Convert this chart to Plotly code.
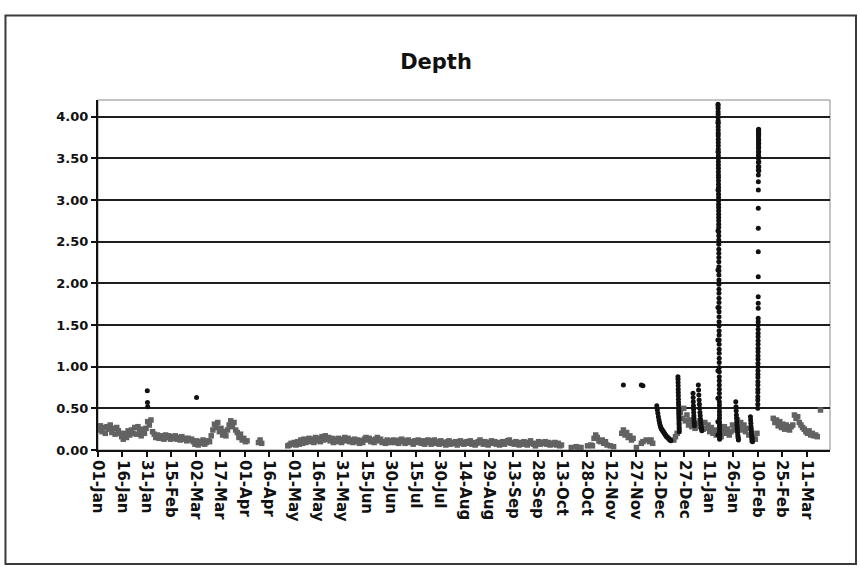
import pandas as pd
import plotly.graph_objects as go

# ---------------------------------------------------------------------------
# Daily depth readings (one value per day from the 1st of each month).
# None marks a day without a reading.
# ---------------------------------------------------------------------------
jan_2003 = [0.24, 0.29, 0.22, 0.27, 0.20, 0.28, 0.25, 0.30, 0.21, 0.26, 0.19, 0.27, 0.23, 0.20,
            0.16, 0.13, 0.20, 0.15, 0.23, 0.18, 0.24,
            0.20, 0.27, 0.19, 0.28, 0.22, 0.17, 0.25, 0.20,
            0.26, 0.34]
feb_2003 = [0.30, 0.36, 0.22,
            0.19, 0.15, 0.18, 0.14, 0.17, 0.16, 0.13, 0.18, 0.15, 0.17, 0.13, 0.16,
            0.14, 0.17, 0.13, 0.15, 0.12, 0.16, 0.13, 0.14, 0.11, 0.14, 0.12, 0.13,
            0.10]
mar_2003 = [0.07, 0.11, 0.06, 0.10, 0.08, 0.12, 0.07, 0.09, 0.11, 0.10,
            0.17, 0.24, 0.31, 0.27, 0.33, 0.22, 0.26,
            0.18, 0.22, 0.17, 0.24,
            0.30, 0.35, 0.28, 0.33, 0.24,
            0.21, 0.15, 0.19, 0.12, 0.14]
apr_2003 = [0.10, 0.11, None, None, None, None, None, None, 0.09, 0.12, 0.08,
            None, None, None, None, None, None, None, None, None, None, None, None, None, None, None,
            0.05, 0.06, 0.08, 0.07]
may_2003 = [0.09, 0.06, 0.10, 0.07, 0.12, 0.08, 0.13, 0.09, 0.11, 0.14, 0.10, 0.13, 0.09, 0.15,
            0.11, 0.14, 0.10, 0.16, 0.12, 0.17, 0.13, 0.15, 0.11, 0.14, 0.09, 0.13, 0.10, 0.14,
            0.11, 0.09, 0.13]
jun_2003 = [0.15, 0.11, 0.14, 0.10, 0.12, 0.09, 0.13, 0.10, 0.12, 0.08, 0.11, 0.09, 0.13, 0.15,
            0.12, 0.14, 0.10, 0.12, 0.09, 0.13, 0.15, 0.11, 0.13, 0.09, 0.10, 0.08, 0.12, 0.10,
            0.09, 0.11]
jul_2003 = [0.12, 0.09, 0.11, 0.08, 0.12, 0.13, 0.10, 0.08, 0.11, 0.12, 0.09, 0.10, 0.07, 0.11,
            0.09, 0.12, 0.10, 0.08, 0.11, 0.07, 0.10, 0.12, 0.09, 0.07, 0.11, 0.12, 0.08, 0.10,
            0.07, 0.11, 0.09]
aug_2003 = [0.08, 0.06, 0.10, 0.11, 0.07, 0.09, 0.08, 0.10, 0.06, 0.08, 0.11, 0.09, 0.07, 0.09,
            0.10, 0.08, 0.11, 0.07, 0.09, 0.06, 0.08, 0.10, 0.12, 0.09, 0.07, 0.10, 0.08, 0.06,
            0.09, 0.11, 0.08]
sep_2003 = [0.10, 0.07, 0.09, 0.06, 0.08, 0.10, 0.07, 0.09, 0.11, 0.12, 0.08, 0.09, 0.07, 0.10,
            0.08, 0.06, 0.09, 0.07, 0.10, 0.08, 0.06, 0.09, 0.11, 0.08, 0.07, 0.05, 0.08, 0.10,
            0.07, 0.09]
oct_2003 = [0.08, 0.10, 0.07, 0.09, 0.06, 0.08, 0.07, 0.09, 0.06, 0.08, 0.05, 0.06,
            None, None, None, None, None, 0.03, None, None, 0.04, 0.03, None, 0.03,
            None, None, None, 0.05, None, 0.06, 0.05]
nov_2003 = [0.14, 0.18, 0.15, 0.11, 0.10, 0.12, 0.08, 0.10, 0.06, None, 0.05, None, 0.04,
            None, None, None, None,
            0.20, 0.24, 0.18, 0.21, 0.15, 0.17, 0.12, 0.14,
            None, 0.03, None, None, 0.08]
dec_2003 = [0.10, None, 0.12, None, 0.10, 0.12, 0.08, None, None,
            None, None, None, None, None, None, None, None, None, None,
            0.12, 0.16, 0.20, None,
            0.45, 0.38, 0.50, 0.35, 0.42, 0.30, 0.36, 0.28]
jan_2004 = [0.30, 0.26, 0.32, 0.28, 0.35, 0.30, 0.25, 0.33, 0.26, 0.30, 0.22, 0.27, 0.20, 0.24,
            0.18, 0.20, None, 0.16, 0.22, 0.28, 0.20, 0.25, 0.18, 0.22, 0.30, 0.24, None,
            0.36, 0.28, 0.33, 0.24]
feb_2004 = [0.30, 0.22, 0.26, 0.18, None, 0.12, 0.15, 0.13, 0.20, None,
            None, None, None, None, None, None, None, None,
            0.38, 0.33, 0.36, 0.29, 0.34, 0.27, 0.31, 0.25, 0.30, 0.26, 0.24]
mar_2004 = [0.28, 0.30, 0.42, 0.38, 0.40, 0.33, 0.30, 0.27, 0.25, 0.22, 0.20, 0.23, 0.18,
            0.20, 0.17, 0.18, 0.16, None, 0.48]

daily_months = [
    ("2003-01-01", jan_2003), ("2003-02-01", feb_2003), ("2003-03-01", mar_2003),
    ("2003-04-01", apr_2003), ("2003-05-01", may_2003), ("2003-06-01", jun_2003),
    ("2003-07-01", jul_2003), ("2003-08-01", aug_2003), ("2003-09-01", sep_2003),
    ("2003-10-01", oct_2003), ("2003-11-01", nov_2003), ("2003-12-01", dec_2003),
    ("2004-01-01", jan_2004), ("2004-02-01", feb_2004), ("2004-03-01", mar_2004),
]

# ---------------------------------------------------------------------------
# Storm-event logging: (first reading, interval in hours, depths)
# ---------------------------------------------------------------------------
storm_2003_01_31 = ("2003-01-31 06:00", 3, [0.71, 0.57, 0.52])
storm_2003_03_02 = ("2003-03-02 12:00", 3, [0.63])
storm_2003_11_19 = ("2003-11-19 12:00", 3, [0.78])
storm_2003_11_30 = ("2003-11-30 12:00", 24, [0.78, 0.77])
storm_2003_12_10 = ("2003-12-10 00:00", 8,
                    [0.53, 0.48, 0.44, 0.40, 0.36, 0.33, 0.30, 0.28, 0.26, 0.25, 0.24, 0.23, 0.22,
                     0.21, 0.20, 0.19, 0.18, 0.17, 0.16, 0.16, 0.15, 0.14, 0.14, 0.13, 0.12, 0.12,
                     0.11])
storm_2003_12_23 = ("2003-12-23 00:00", 1,
                    [0.88, 0.85, 0.81, 0.77, 0.73, 0.69, 0.65, 0.61, 0.57, 0.54, 0.50, 0.47, 0.44,
                     0.41, 0.38, 0.35, 0.32, 0.30, 0.27, 0.25, 0.22])
storm_2004_01_01 = ("2004-01-01 06:00", 2,
                    [0.68, 0.63, 0.58, 0.53, 0.49, 0.45, 0.41, 0.38, 0.35, 0.32, 0.29])
storm_2004_01_04 = ("2004-01-04 12:00", 4,
                    [0.78, 0.72, 0.66, 0.60, 0.55, 0.50, 0.45, 0.41, 0.37, 0.33, 0.30, 0.27, 0.25,
                     0.23])
storm_2004_01_16 = ("2004-01-16 12:00", 0.25,
                    [0.18, 0.34, 0.62, 0.95, 1.32, 1.71, 2.16, 2.63, 3.12, 3.58, 3.93, 4.15,
                     4.13, 4.10, 4.06, 4.03, 3.99, 3.95, 3.92, 3.88, 3.84, 3.80, 3.77, 3.73, 3.69,
                     3.65, 3.61, 3.57, 3.53, 3.50, 3.46, 3.42, 3.38, 3.34, 3.30, 3.27, 3.23, 3.19,
                     3.15, 3.11, 3.07, 3.03, 2.99, 2.95, 2.91, 2.87, 2.83, 2.79, 2.75, 2.71, 2.67,
                     2.62, 2.57, 2.52, 2.47, 2.41, 2.36, 2.31, 2.26, 2.20, 2.15, 2.10, 2.04, 1.99,
                     1.93, 1.88, 1.82, 1.77, 1.71, 1.66, 1.60, 1.54, 1.49, 1.43, 1.38, 1.32, 1.27,
                     1.21, 1.16, 1.10, 1.05, 0.99, 0.94, 0.88, 0.83, 0.78, 0.73, 0.68, 0.63, 0.58,
                     0.54, 0.50, 0.46, 0.42, 0.38, 0.34, 0.31, 0.28, 0.25, 0.22, 0.19, 0.17, 0.15,
                     0.13])
storm_2004_01_27 = ("2004-01-27 12:00", 3,
                    [0.58, 0.52, 0.47, 0.42, 0.38, 0.34, 0.30, 0.27, 0.24, 0.21, 0.18, 0.16, 0.14,
                     0.12])
storm_2004_02_05 = ("2004-02-05 12:00", 3,
                    [0.40, 0.36, 0.32, 0.28, 0.25, 0.22, 0.19, 0.16, 0.14, 0.12, 0.10])
storm_2004_02_10 = ("2004-02-10 00:00", 0.25,
                    [0.50, 0.55, 0.60, 0.64, 0.69, 0.73, 0.78, 0.82, 0.87, 0.91, 0.95, 1.00, 1.04,
                     1.09, 1.13, 1.18, 1.22, 1.27, 1.31, 1.36, 1.40, 1.45, 1.50, 1.54, 1.58,
                     1.70, 1.76, 1.84, 2.08, 2.38, 2.66, 2.90, 3.12, 3.22,
                     3.30, 3.36, 3.40, 3.45, 3.50, 3.54, 3.58, 3.62, 3.66, 3.70, 3.73, 3.76, 3.79,
                     3.82, 3.84, 3.85, 3.83, 3.80, 3.77, 3.72, 3.68, 3.63, 3.58, 3.52, 3.46, 3.40,
                     3.35])

storms = [storm_2003_01_31, storm_2003_03_02, storm_2003_11_19, storm_2003_11_30,
          storm_2003_12_10, storm_2003_12_23, storm_2004_01_01, storm_2004_01_04,
          storm_2004_01_16, storm_2004_01_27, storm_2004_02_05, storm_2004_02_10]

tick_labels = ["01-Jan", "16-Jan", "31-Jan", "15-Feb", "02-Mar", "17-Mar", "01-Apr", "16-Apr",
               "01-May", "16-May", "31-May", "15-Jun", "30-Jun", "15-Jul", "30-Jul", "14-Aug",
               "29-Aug", "13-Sep", "28-Sep", "13-Oct", "28-Oct", "12-Nov", "27-Nov", "12-Dec",
               "27-Dec", "11-Jan", "26-Jan", "10-Feb", "25-Feb", "11-Mar"]
y_ticks = [0.0, 0.5, 1.0, 1.5, 2.0, 2.5, 3.0, 3.5, 4.0]

# ---------------------------------------------------------------------------
daily_x, daily_y = [], []
for start, vals in daily_months:
    days = pd.date_range(start, periods=len(vals), freq="D") + pd.Timedelta(hours=12)
    daily_x.extend(days)
    daily_y.extend(vals)

storm_x, storm_y = [], []
for start, step_h, vals in storms:
    times = pd.date_range(start, periods=len(vals), freq=pd.Timedelta(hours=step_h))
    storm_x.extend(times)
    storm_y.extend(vals)

tick_vals = pd.date_range("2003-01-01", periods=len(tick_labels), freq="15D")

fig = go.Figure()
fig.add_trace(go.Scatter(
    x=daily_x, y=daily_y, mode="markers", name="Daily",
    marker=dict(symbol="square", size=5.5, color="#626262", line=dict(width=0)),
    showlegend=False, cliponaxis=True,
))
fig.add_trace(go.Scatter(
    x=storm_x, y=storm_y, mode="markers", name="Storm",
    marker=dict(symbol="circle", size=5, color="#111111", line=dict(width=0)),
    showlegend=False, cliponaxis=True,
))

FONT = "DejaVu Sans"

fig.update_layout(
    width=860, height=567,
    margin=dict(l=98, r=30, t=100, b=117),
    paper_bgcolor="white", plot_bgcolor="white",
    title=dict(text="<b>Depth</b>", x=0.507, xref="container", xanchor="center",
               y=0.892, yref="container", yanchor="middle",
               font=dict(family=FONT, size=21, color="#111111")),
    xaxis=dict(
        type="date", range=["2003-01-01", "2004-03-25 08:00"],
        tickmode="array", tickvals=tick_vals, ticktext=tick_labels, tickangle=90,
        tickfont=dict(family=FONT, size=15, color="#111111", weight="bold"),
        ticks="outside", ticklen=5, tickwidth=1.5, tickcolor="#111111",
        showgrid=False, zeroline=False,
        showline=True, linecolor="#111111", linewidth=2,
    ),
    yaxis=dict(
        range=[0, 4.2], tickmode="array", tickvals=y_ticks,
        tickformat=".2f",
        tickfont=dict(family=FONT, size=13, color="#111111", weight="bold"),
        ticks="outside", ticklen=5, tickwidth=1.5, tickcolor="#111111",
        showgrid=True, gridcolor="#1e1e1e", gridwidth=2,
        zeroline=False, showline=True, linecolor="#111111", linewidth=2,
    ),
    shapes=[
        # thin border around the plotting area
        dict(type="rect", xref="paper", yref="paper", x0=0, y0=0, x1=1, y1=1,
             line=dict(color="#8a8a8a", width=1), layer="below"),
        # outer chart frame
        dict(type="rect", xref="paper", yref="paper", x0=-0.1264, y0=-0.326, x1=1.0355, y1=1.2415,
             line=dict(color="#3a3a3a", width=2)),
    ],
)

fig.write_html("out.html")
